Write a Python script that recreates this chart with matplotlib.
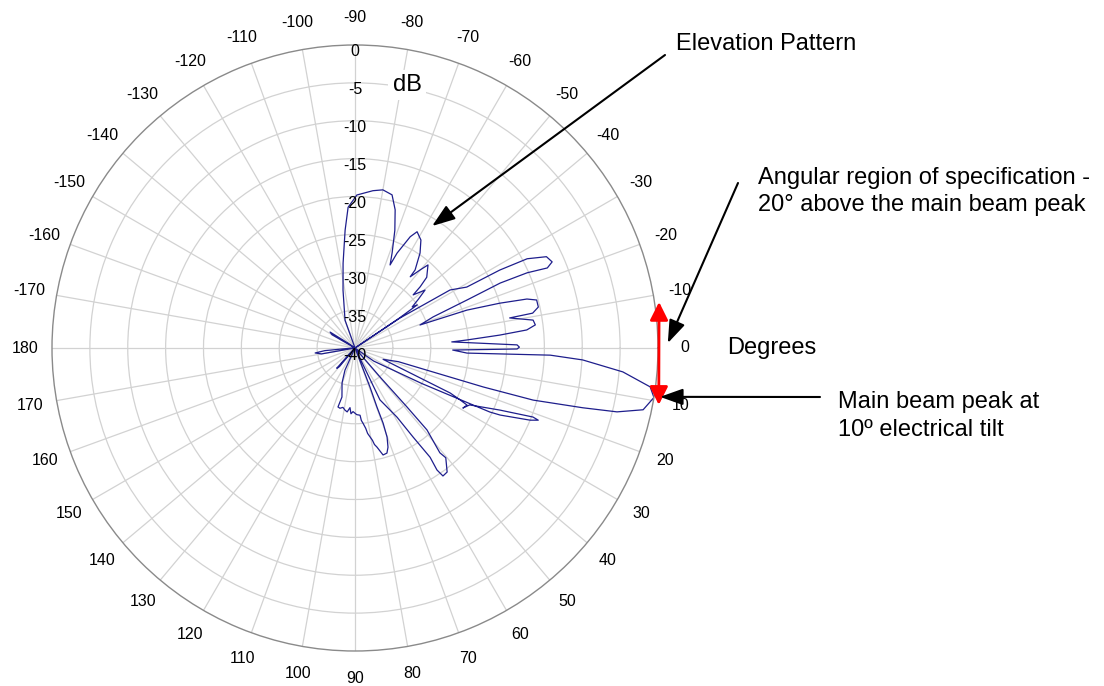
import matplotlib
matplotlib.use("Agg")
import matplotlib.pyplot as plt
import numpy as np
from matplotlib.transforms import offset_copy

plt.rcParams["font.family"] = ["Liberation Sans", "DejaVu Sans"]

# elevation pattern, traced in drawing order (angle in degrees clockwise from east, level in dB)
upper_lobe_deg = [-125, -109.7, -101.7, -98.0, -94.8, -92.8, -89.3, -83.5, -80.0, -76.4, -73.8,
                  -71.3, -68.7, -67.1, -66.1, -63.6, -61.9, -58.6, -55.6, -52.4, -52.2, -50.2,
                  -48.7, -44.6, -43.2, -42.4, -39.6, -37.5, -35.7, -34.7, -34.0, -34.5]
upper_lobe_db = [-40, -36.1, -32.2, -28.7, -24.4, -21.4, -19.8, -19.1, -18.8, -19.2, -21.0,
                 -23.6, -26.5, -28.1, -26.3, -23.6, -22.6, -23.3, -24.8, -27.0, -28.1, -26.6,
                 -25.4, -26.7, -28.2, -29.6, -28.0, -29.5, -30.7, -30.0, -33.0, -40]

right_lobes_deg = [-33.7, -31.4, -28.6, -28.3, -27.4, -25.5, -23.6, -22.6, -23.6, -24.1, -23.2,
                   -21.7, -19.5, -18.7, -17.2, -15.9, -14.8, -12.6, -11.1, -11.0, -8.9, -7.3,
                   -6.0, -5.1, -4.1, -3.6, -1.1, -0.3, 0.35, 1.2]
right_lobes_db = [-32.9, -25.3, -23.2, -18.3, -14.4, -12.0, -11.6, -12.5, -15.2, -19.0, -23.9,
                  -28.9, -30.9, -24.4, -20.0, -16.4, -15.2, -15.2, -16.1, -19.2, -16.2, -16.0,
                  -17.2, -20.8, -25.2, -27.2, -18.6, -18.3, -18.6, -27.1]

main_beam_deg = [2.6, 2.1, 3.0, 5.1, 7.5, 9.4, 12.1, 13.7, 14.7, 16.3, 16.9, 17.0, 17.5]
main_beam_db = [-25.2, -14.2, -9.9, -4.5, -0.7, 0.0, -1.1, -4.4, -8.9, -15.5, -22.3, -26.9, -34.0]

side_lobe_deg = [22.0, 25.3, 26.3, 27.0, 29.1, 26.4, 23.2, 21.2, 21.5, 22.4, 24.8, 25.4, 28.0, 35.0, 45.0]
side_lobe_db = [-36.0, -26.1, -24.5, -23.4, -23.7, -23.1, -19.2, -14.8, -14.0, -15.0, -18.9, -20.3,
                -30.0, -37.0, -40]

lower_lobe_deg = [49.2, 48.6, 48.7, 51.0, 50.4, 53.4, 55.5, 56.1, 55.5, 56.9, 58.7, 64.3, 66.0]
lower_lobe_db = [-34.9, -29.6, -25.6, -22.2, -21.2, -19.6, -19.5, -20.6, -22.5, -26.0, -29.3, -32.4, -40]

ragged_lobe_deg = [69.0, 69.6, 69.5, 70.2, 71.6, 73.1, 75.3, 77.5, 78.6, 79.3, 80.4, 81.6, 82.4, 83.9,
                   85.0, 85.7, 88.5, 91.8, 93.5, 94.8, 97.0, 99.2, 101.5, 104.0, 106.1, 104.9,
                   110.4, 114.4, 120.0]
ragged_lobe_db = [-34.5, -31.7, -29.4, -27.5, -26.2, -25.5, -25.4, -26.6, -27.0, -27.6, -28.1, -28.6,
                  -29.3, -30.0, -30.4, -31.1, -31.2, -31.6, -31.3, -32.1, -31.5, -31.7, -32.0,
                  -31.8, -31.9, -33.3, -35.1, -36.8, -40]

clutter_deg = [130, 132, 134, 150, 170, 172.9, 175, 178, -175, -150, -147.4, -145, -125]
clutter_db = [-36.8, -36.4, -39.0, -40, -35.5, -34.7, -36.0, -39.5, -40, -36.5, -36.1, -39.0, -40]

ring_db = [0, -5, -10, -15, -20, -25, -30, -35, -40]
spoke_deg = list(range(-170, 190, 10))


def main() -> None:
    theta_deg = (upper_lobe_deg + right_lobes_deg + main_beam_deg + side_lobe_deg
                 + lower_lobe_deg + ragged_lobe_deg + clutter_deg)
    level_db = (upper_lobe_db + right_lobes_db + main_beam_db + side_lobe_db
                + lower_lobe_db + ragged_lobe_db + clutter_db)

    fig = plt.figure(figsize=(11.04, 6.86), dpi=100)
    fig.patch.set_facecolor("white")
    ax = fig.add_axes([52 / 1104, 35 / 686, 606 / 1104, 606 / 686], projection="polar")
    ax.set_theta_zero_location("E")
    ax.set_theta_direction(-1)

    ax.plot(np.deg2rad(theta_deg), level_db, color="#1e1e8c", lw=0.9)

    ax.set_yticks(ring_db[1:-1])
    ax.set_yticklabels([])
    ax.set_xticks(np.deg2rad(np.mod(spoke_deg, 360)))
    ax.set_xticklabels([])
    ax.set_thetamin(0)
    ax.set_thetamax(360)
    ax.set_ylim(-40, 0)
    ax.grid(True, color="#d2d2d2", lw=0.9)
    ax.spines["polar"].set_color("#8a8a8a")
    ax.spines["polar"].set_linewidth(1.0)

    # angle labels outside the circle
    for d in spoke_deg:
        ax.text(np.deg2rad(d), 3.6, str(d), ha="center", va="center",
                fontsize=11.5, clip_on=False)

    # dB labels down the top spoke
    lab_tr = offset_copy(ax.transData, fig=fig, y=-7, units="dots")
    for v in ring_db:
        ax.text(np.deg2rad(-90), v, str(v), transform=lab_tr, ha="center", va="center",
                fontsize=11.5)

    fig.text(407 / 1104, 1 - 85 / 686, "dB", ha="center", va="center", fontsize=17,
             bbox=dict(facecolor="white", edgecolor="none", pad=3))
    fig.text(727 / 1104, 1 - 348 / 686, "Degrees", ha="left", va="center", fontsize=17)

    # red span of the specified region
    ax.annotate("", xy=(np.deg2rad(10.6), 0.8), xytext=(np.deg2rad(-8.6), 0.6),
                arrowprops=dict(arrowstyle="<|-|>,head_length=1.1,head_width=0.55",
                                color="red", lw=2, shrinkA=0, shrinkB=0, mutation_scale=10),
                annotation_clip=False)

    arrow = dict(arrowstyle="-|>,head_length=1.4,head_width=0.5", color="black", lw=1.5,
                 shrinkA=0, shrinkB=0, mutation_scale=10)
    ax.annotate("", xy=(np.deg2rad(-57.7), -20.95), xytext=(665 / 1104, 1 - 55 / 686),
                textcoords="figure fraction", arrowprops=arrow, annotation_clip=False)
    ax.annotate("", xy=(np.deg2rad(-0.9), 1.3), xytext=(738 / 1104, 1 - 183 / 686),
                textcoords="figure fraction", arrowprops=arrow, annotation_clip=False)
    ax.annotate("", xy=(np.deg2rad(9.1), 0.78), xytext=(820 / 1104, 1 - 397 / 686),
                textcoords="figure fraction", arrowprops=arrow, annotation_clip=False)

    fig.text(676 / 1104, 1 - 44 / 686, "Elevation Pattern", ha="left", va="center", fontsize=17)
    fig.text(758 / 1104, 1 - 191.5 / 686,
             "Angular region of specification -\n20° above the main beam peak",
             ha="left", va="center", fontsize=17, linespacing=1.3)
    fig.text(838 / 1104, 1 - 416 / 686, "Main beam peak at\n10º electrical tilt",
             ha="left", va="center", fontsize=17, linespacing=1.3)

    fig.savefig("out.png", dpi=100, facecolor="white")


if __name__ == "__main__":
    main()
